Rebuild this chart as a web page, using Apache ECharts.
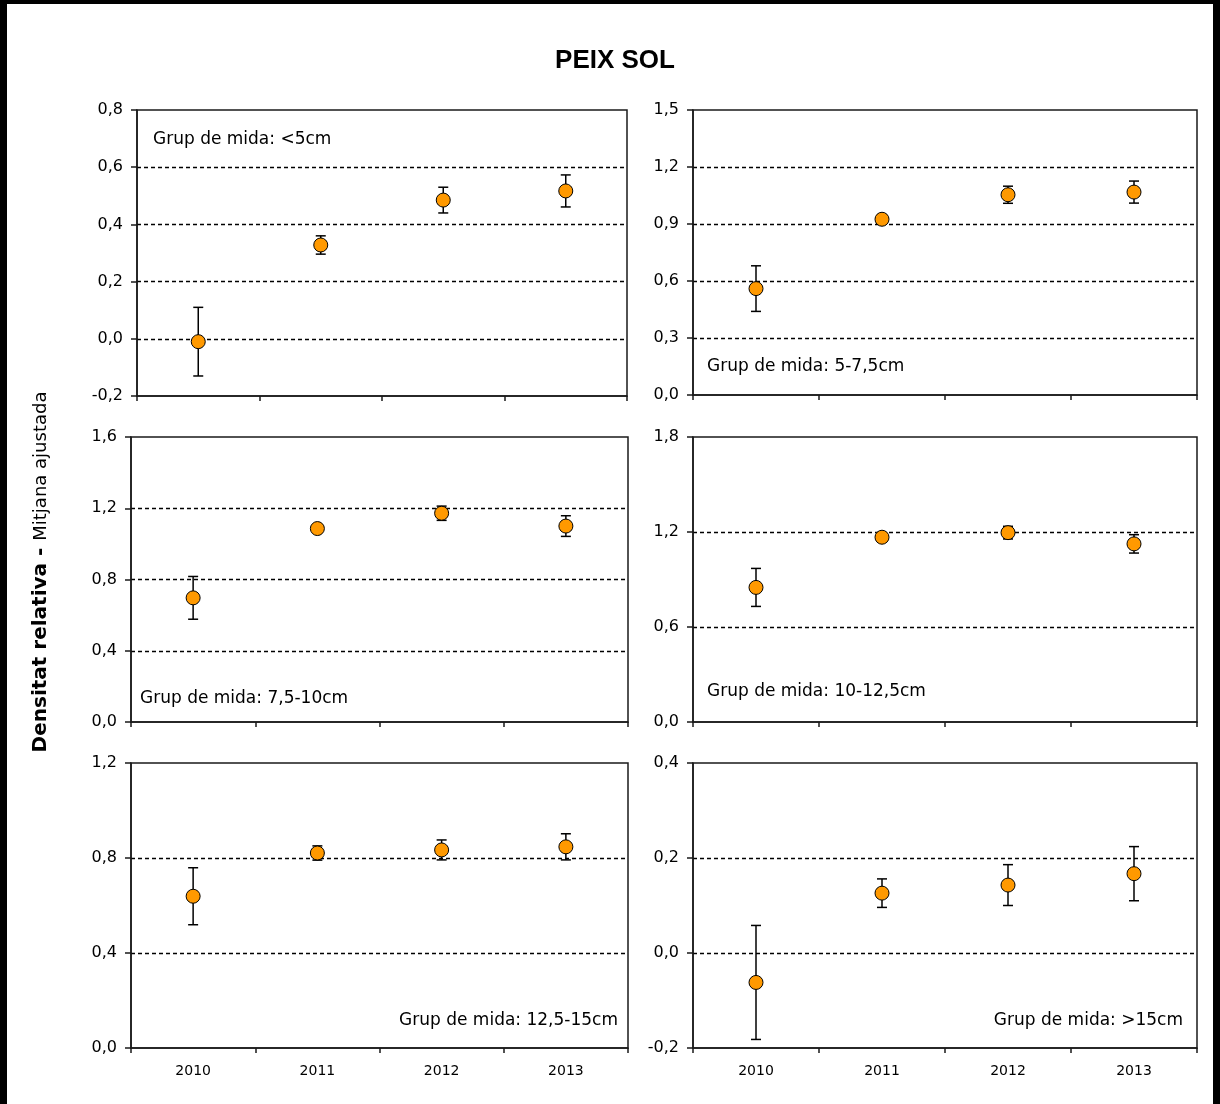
<!DOCTYPE html>
<html>
<head>
<meta charset="utf-8">
<title>PEIX SOL</title>
<script src="https://cdn.jsdelivr.net/npm/echarts@6/dist/echarts.min.js"></script>
<style>
  html, body { margin: 0; padding: 0; background: #fff; }
  #chart { width: 1220px; height: 1104px; }
</style>
</head>
<body>
<div id="chart"></div>
<script>
// Sampling years (x categories shared by every panel)
const years = ['2010', '2011', '2012', '2013'];

// Size-class captions, one per panel
const sizeGroups = [
  'Grup de mida: <5cm',
  'Grup de mida: 5-7,5cm',
  'Grup de mida: 7,5-10cm',
  'Grup de mida: 10-12,5cm',
  'Grup de mida: 12,5-15cm',
  'Grup de mida: >15cm'
];

// Adjusted mean relative density and error half-width per size class
const meanLt5 = [-0.010, 0.328, 0.485, 0.517];
const errLt5 = [0.120, 0.032, 0.045, 0.056];

const mean5to75 = [0.560, 0.925, 1.054, 1.068];
const err5to75 = [0.120, 0.020, 0.045, 0.058];

const mean75to10 = [0.697, 1.086, 1.172, 1.100];
const err75to10 = [0.120, 0.020, 0.040, 0.058];

const mean10to125 = [0.850, 1.167, 1.196, 1.125];
const err10to125 = [0.120, 0.020, 0.040, 0.058];

const mean125to15 = [0.639, 0.821, 0.834, 0.847];
const err125to15 = [0.120, 0.030, 0.042, 0.055];

const meanGt15 = [-0.062, 0.126, 0.143, 0.167];
const errGt15 = [0.120, 0.030, 0.043, 0.057];

// Y-axis scales per panel: [min, max, interval]
const scaleLt5 = [-0.2, 0.8, 0.2];
const scale5to75 = [0, 1.5, 0.3];
const scale75to10 = [0, 1.6, 0.4];
const scale10to125 = [0, 1.8, 0.6];
const scale125to15 = [0, 1.2, 0.4];
const scaleGt15 = [-0.2, 0.4, 0.2];

const panelMeans = [meanLt5, mean5to75, mean75to10, mean10to125, mean125to15, meanGt15];
const panelErrs = [errLt5, err5to75, err75to10, err10to125, err125to15, errGt15];
const panelScales = [scaleLt5, scale5to75, scale75to10, scale10to125, scale125to15, scaleGt15];

// Plot-area boxes (left, top, width, height)
const boxes = [
  [137, 110, 490, 286],
  [693, 110, 504, 285],
  [131, 437, 497, 285],
  [693, 437, 504, 285],
  [131, 763, 497, 285],
  [693, 763, 504, 285]
];

// Caption placement inside each plot area
const captionPos = [
  { x: 153, y: 140, align: 'left' },
  { x: 707, y: 367, align: 'left' },
  { x: 140, y: 699, align: 'left' },
  { x: 707, y: 692, align: 'left' },
  { x: 618, y: 1021, align: 'right' },
  { x: 1183, y: 1021, align: 'right' }
];

const FONT = 'DejaVu Sans';
const INK = '#1a1a1a';

function decimalComma(v) {
  return v.toFixed(1).replace('.', ',');
}

function renderErrorBar(params, api) {
  const xi = api.value(0);
  const top = api.coord([xi, api.value(2)]);
  const bot = api.coord([xi, api.value(1)]);
  const half = 5;
  const style = { stroke: '#000', lineWidth: 1.5 };
  return {
    type: 'group',
    children: [
      { type: 'line', shape: { x1: top[0], y1: top[1], x2: bot[0], y2: bot[1] }, style: style },
      { type: 'line', shape: { x1: top[0] - half, y1: top[1], x2: top[0] + half, y2: top[1] }, style: style },
      { type: 'line', shape: { x1: bot[0] - half, y1: bot[1], x2: bot[0] + half, y2: bot[1] }, style: style }
    ]
  };
}

const grids = [], xAxes = [], yAxes = [], series = [];

boxes.forEach(function (b, i) {
  const isBottom = i >= 4;
  const sc = panelScales[i];
  grids.push({
    left: b[0], top: b[1], width: b[2], height: b[3],
    show: true, borderColor: INK, borderWidth: 1.5, backgroundColor: 'transparent'
  });
  xAxes.push({
    type: 'category', gridIndex: i, data: years, boundaryGap: true,
    axisLine: { show: true, onZero: false, lineStyle: { color: INK, width: 1.5 } },
    axisTick: { show: true, length: 5, lineStyle: { color: INK, width: 1.5 } },
    axisLabel: { show: isBottom, margin: 16, color: '#000', fontFamily: FONT, fontSize: 14 },
    splitLine: { show: false }
  });
  yAxes.push({
    type: 'value', gridIndex: i, min: sc[0], max: sc[1], interval: sc[2],
    axisLine: { show: true, onZero: false, lineStyle: { color: INK, width: 1.5 } },
    axisTick: { show: true, length: 6, lineStyle: { color: INK, width: 1.5 } },
    axisLabel: { margin: 14, color: '#000', fontFamily: FONT, fontSize: 16, formatter: decimalComma },
    splitLine: {
      show: true, showMinLine: false, showMaxLine: false,
      lineStyle: { color: '#000', width: 1.3, type: [4, 3] }
    }
  });
  const means = panelMeans[i], errs = panelErrs[i];
  series.push({
    type: 'custom', xAxisIndex: i, yAxisIndex: i, z: 2,
    renderItem: renderErrorBar,
    encode: { x: 0, y: [1, 2] },
    data: means.map(function (m, k) { return [k, m - errs[k], m + errs[k]]; })
  });
  series.push({
    type: 'scatter', xAxisIndex: i, yAxisIndex: i, z: 3,
    symbol: 'circle', symbolSize: 14,
    itemStyle: { color: '#FF9900', borderColor: '#000', borderWidth: 1, opacity: 1 },
    data: means.map(function (m, k) { return [k, m]; })
  });
});

const frameStyle = { fill: '#000' };
const graphics = [
  // outer frame: left, right and top bands
  { type: 'rect', z: 100, silent: true, shape: { x: 0, y: 0, width: 7, height: 1104 }, style: frameStyle },
  { type: 'rect', z: 100, silent: true, shape: { x: 1213, y: 0, width: 7, height: 1104 }, style: frameStyle },
  { type: 'rect', z: 100, silent: true, shape: { x: 0, y: 0, width: 1220, height: 4 }, style: frameStyle },
  // shared y-axis title
  {
    type: 'text', x: 41, y: 572, rotation: Math.PI / 2, z: 50,
    style: {
      text: '{b|Densitat relativa - }{n|Mitjana ajustada}',
      align: 'center', verticalAlign: 'middle',
      rich: {
        b: { fontFamily: FONT, fontWeight: 'bold', fontSize: 20, fill: '#000' },
        n: { fontFamily: FONT, fontSize: 18, fill: '#000' }
      }
    }
  }
];

captionPos.forEach(function (p, i) {
  graphics.push({
    type: 'text', x: p.x, y: p.y, z: 50,
    style: {
      text: sizeGroups[i], fontFamily: FONT, fontSize: 17, fill: '#000',
      align: p.align, verticalAlign: 'middle'
    }
  });
});

const chart = echarts.init(document.getElementById('chart'), null, { renderer: 'canvas' });
chart.setOption({
  animation: false,
  backgroundColor: '#fff',
  title: {
    text: 'PEIX SOL', left: 610, top: 43, textAlign: 'center',
    textStyle: { fontFamily: 'Liberation Sans', fontWeight: 'bold', fontSize: 26, color: '#000' }
  },
  grid: grids,
  xAxis: xAxes,
  yAxis: yAxes,
  series: series,
  graphic: graphics
});
</script>
</body>
</html>
